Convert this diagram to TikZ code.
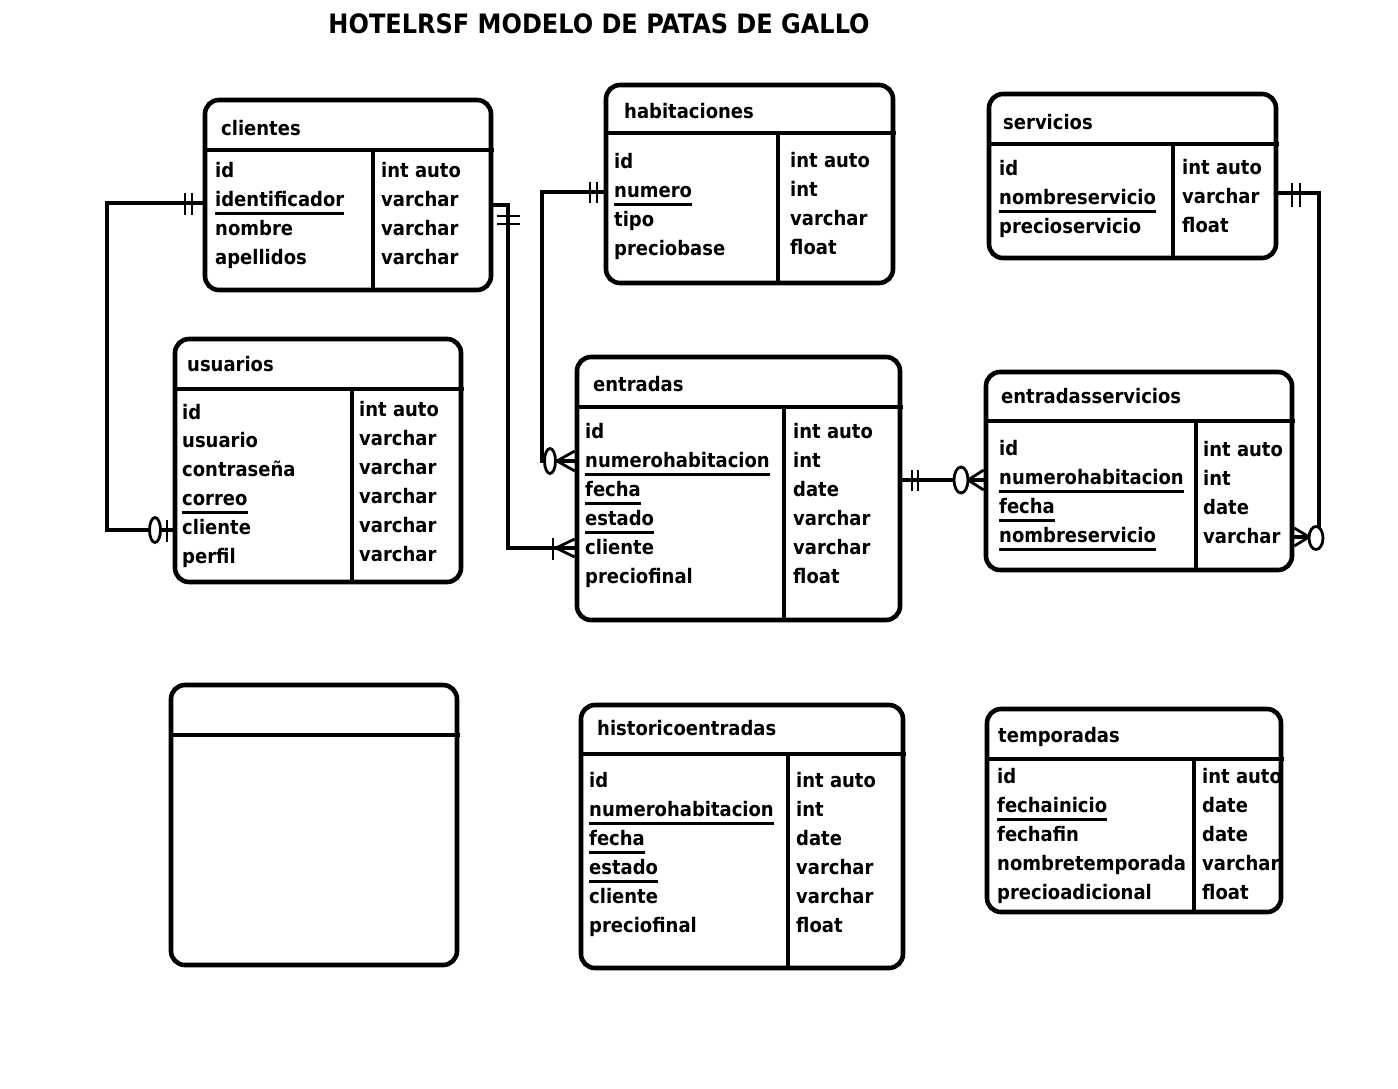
\documentclass[tikz,border=0pt]{standalone}
\usepackage{fontspec}
\setmainfont{DejaVu Sans Condensed}[BoldFont={DejaVu Sans Condensed Bold}]
\usetikzlibrary{fit,calc}
\newcommand\fldfont{\fontsize{20}{24}\selectfont\bfseries}
\newcommand\ttlfont{\fontsize{26.7}{32}\selectfont\bfseries}
\tikzset{
  tbl/.style={draw, line width=4.6pt, rounded corners=14pt, inner sep=0pt},
  sepline/.style={line width=4.6pt},
  fld/.style={anchor=base west, inner sep=0pt, font=\fldfont},
  ul/.style={line width=3pt},
  conn/.style={line width=3.2pt},
  mk/.style={line width=2.8pt},
}
\newcommand\uline[1]{\draw[ul] ([yshift=-7pt]#1.base west) -- ([yshift=-7pt]#1.base east);}
\begin{document}
\begin{tikzpicture}[x=1pt,y=-1pt]
\useasboundingbox (0,0) rectangle (1398,1088);

\node[anchor=base, inner sep=0pt, font=\ttlfont] (title) at (599,33) {HOTELRSF MODELO DE PATAS DE GALLO};

% clientes
\node[tbl, fit={(205,100)(491,290)}] (cli) {};
\draw[sepline] (205,150) -- (494,150);
\draw[sepline] (373,150) -- (373,290);
\node[fld] (cliT) at (221,135) {clientes};
\foreach \t [count=\i] in {id,identificador,nombre,apellidos}
  \node[fld] (cliL\i) at (215,{177+29*(\i-1)}) {\t};
\foreach \t [count=\i] in {int auto,varchar,varchar,varchar}
  \node[fld] (cliR\i) at (381,{177+29*(\i-1)}) {\t};
\uline{cliL2}

% habitaciones
\node[tbl, fit={(606,85)(893,283)}] (hab) {};
\draw[sepline] (606,133) -- (896,133);
\draw[sepline] (778,133) -- (778,283);
\node[fld] (habT) at (624,118) {habitaciones};
\foreach \t [count=\i] in {id,numero,tipo,preciobase}
  \node[fld] (habL\i) at (614,{168+29*(\i-1)}) {\t};
\foreach \t [count=\i] in {int auto,int,varchar,float}
  \node[fld] (habR\i) at (790,{167+29*(\i-1)}) {\t};
\uline{habL2}

% servicios
\node[tbl, fit={(989,94)(1276,258)}] (srv) {};
\draw[sepline] (989,144) -- (1279,144);
\draw[sepline] (1173,144) -- (1173,258);
\node[fld] (srvT) at (1003,129) {servicios};
\foreach \t [count=\i] in {id,nombreservicio,precioservicio}
  \node[fld] (srvL\i) at (999,{175+29*(\i-1)}) {\t};
\foreach \t [count=\i] in {int auto,varchar,float}
  \node[fld] (srvR\i) at (1182,{174+29*(\i-1)}) {\t};
\uline{srvL2}

% usuarios
\node[tbl, fit={(175,339)(461,582)}] (usu) {};
\draw[sepline] (175,389) -- (464,389);
\draw[sepline] (352,389) -- (352,582);
\node[fld] (usuT) at (187,371) {usuarios};
\foreach \t [count=\i] in {id,usuario,contraseña,correo,cliente,perfil}
  \node[fld] (usuL\i) at (182,{419+28.8*(\i-1)}) {\t};
\foreach \t [count=\i] in {int auto,varchar,varchar,varchar,varchar,varchar}
  \node[fld] (usuR\i) at (359,{416+29*(\i-1)}) {\t};
\uline{usuL4}

% entradas
\node[tbl, fit={(577,357)(900,620)}] (ent) {};
\draw[sepline] (577,407) -- (903,407);
\draw[sepline] (784,407) -- (784,620);
\node[fld] (entT) at (593,391) {entradas};
\foreach \t [count=\i] in {id,numerohabitacion,fecha,estado,cliente,preciofinal}
  \node[fld] (entL\i) at (585,{438+29*(\i-1)}) {\t};
\foreach \t [count=\i] in {int auto,int,date,varchar,varchar,float}
  \node[fld] (entR\i) at (793,{438+29*(\i-1)}) {\t};
\uline{entL2}\uline{entL3}\uline{entL4}

% entradasservicios
\node[tbl, fit={(986,372)(1292,570)}] (es) {};
\draw[sepline] (986,421) -- (1295,421);
\draw[sepline] (1196,421) -- (1196,570);
\node[fld] (esT) at (1001,403) {entradasservicios};
\foreach \t [count=\i] in {id,numerohabitacion,fecha,nombreservicio}
  \node[fld] (esL\i) at (999,{455+29*(\i-1)}) {\t};
\foreach \t [count=\i] in {int auto,int,date,varchar}
  \node[fld] (esR\i) at (1203,{456+29*(\i-1)}) {\t};
\uline{esL2}\uline{esL3}\uline{esL4}

% empty table
\node[tbl, fit={(171,685)(457,965)}] (emp) {};
\draw[sepline] (171,735) -- (460,735);

% historicoentradas
\node[tbl, fit={(581,705)(903,968)}] (his) {};
\draw[sepline] (581,754) -- (906,754);
\draw[sepline] (788,754) -- (788,968);
\node[fld] (hisT) at (597,735) {historicoentradas};
\foreach \t [count=\i] in {id,numerohabitacion,fecha,estado,cliente,preciofinal}
  \node[fld] (hisL\i) at (589,{787+29*(\i-1)}) {\t};
\foreach \t [count=\i] in {int auto,int,date,varchar,varchar,float}
  \node[fld] (hisR\i) at (796,{787+29*(\i-1)}) {\t};
\uline{hisL2}\uline{hisL3}\uline{hisL4}

% temporadas
\node[tbl, fit={(987,709)(1281,912)}] (tem) {};
\draw[sepline] (987,759) -- (1284,759);
\draw[sepline] (1194,759) -- (1194,912);
\node[fld] (temT) at (998,742) {temporadas};
\foreach \t [count=\i] in {id,fechainicio,fechafin,nombretemporada,precioadicional}
  \node[fld] (temL\i) at (997,{783+29*(\i-1)}) {\t};
\foreach \t [count=\i] in {int auto,date,date,varchar,float}
  \node[fld] (temR\i) at (1202,{783+29*(\i-1)}) {\t};
\uline{temL2}

% ---- connectors ----
% clientes -> usuarios
\draw[conn] (cli.west |- 0,203) -- (107,203) -- (107,530) -- (usu.west |- 0,530);
\draw[mk] (185,193) -- (185,215) (192,193) -- (192,215);
\draw[mk, fill=white] (155,530) ellipse [x radius=5.5pt, y radius=12.5pt];
\draw[mk] (167,520) -- (167,542);

% clientes -> entradas
\draw[conn] (cli.east |- 0,205) -- (508,205) -- (508,548) -- (ent.west |- 0,548);
\draw[mk] (497,216) -- (520,216) (497,224) -- (520,224);
\draw[mk] (553,538) -- (553,560);
\draw[mk] (ent.west |- 0,539) -- (556,548) -- (ent.west |- 0,557);

% habitaciones -> entradas
\draw[conn] (hab.west |- 0,192) -- (542,192) -- (542,461) -- (ent.west |- 0,461);
\draw[mk] (590,182) -- (590,203) (597,182) -- (597,203);
\draw[mk] (ent.west |- 0,451) -- (557,461) -- (ent.west |- 0,471);
\draw[mk, fill=white] (550,461) ellipse [x radius=5.5pt, y radius=12.5pt];

% entradas -> entradasservicios
\draw[conn] (ent.east |- 0,480) -- (es.west |- 0,480);
\draw[mk] (912,470) -- (912,491) (918,470) -- (918,491);
\draw[mk] (es.west |- 0,470) -- (968,480) -- (es.west |- 0,490);
\draw[mk, fill=white] (961,480) ellipse [x radius=7pt, y radius=13pt];

% servicios -> entradasservicios
\draw[conn] (srv.east |- 0,193) -- (1319,193) -- (1319,537) -- (es.east |- 0,537);
\draw[mk] (1292,183) -- (1292,207) (1300,183) -- (1300,207);
\draw[mk] (es.east |- 0,528) -- (1309,537) -- (es.east |- 0,546);
\draw[mk, fill=white] (1316,538) ellipse [x radius=7pt, y radius=11.5pt];
\end{tikzpicture}
\end{document}
